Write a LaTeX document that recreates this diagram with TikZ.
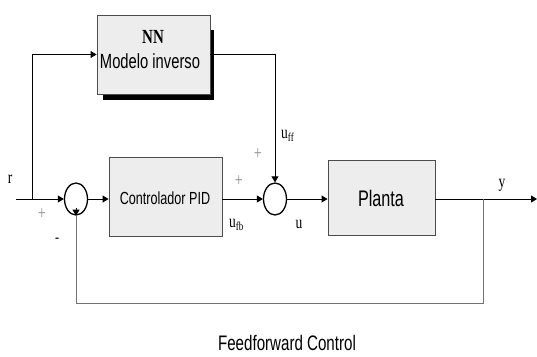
\documentclass[tikz,border=0pt]{standalone}
\usepackage{fontspec}
\setmainfont{Liberation Serif}
\newfontfamily\sansc[FakeStretch=0.72]{Liberation Sans}
\newfontfamily\serc[FakeStretch=0.75]{Liberation Serif}
\usetikzlibrary{shapes.geometric,arrows.meta}
\begin{document}
\begin{tikzpicture}[x=1pt,y=-1pt,
  box/.style={draw=black!70,line width=0.9pt,fill=black!7,inner sep=0pt},
  sumnode/.style={draw=black,line width=1.3pt,ellipse,minimum width=23pt,minimum height=32pt,inner sep=0pt},
  wire/.style={line width=0.9pt,draw=black},
  arr/.style={wire,-{Triangle[length=6pt,width=7pt]}},
  fbwire/.style={line width=0.9pt,draw=black!55},
  lbl/.style={inner sep=0pt,font=\fontsize{18}{18}\serc},
  sgn/.style={inner sep=0pt,text=black!45,font=\fontsize{19}{19}\serc}]
\useasboundingbox (0,0) rectangle (537,356);
% shadow and NN box
\fill[black] (103,30) rectangle (214,100);
\node[box,minimum width=113pt,minimum height=79pt] (nn) at (153.5,54.5) {};
\node[inner sep=0pt,font=\fontsize{20}{20}\serc\bfseries] (nnt) at (153,37) {NN};
\node[inner sep=0pt,font=\fontsize{20.5}{20.5}\sansc] (mi) at (150,61) {Modelo inverso};
% PID and Planta
\node[box,minimum width=113pt,minimum height=79pt] (pid) at (165.5,196.5) {};
\node[inner sep=0pt,font=\fontsize{17.5}{17.5}\sansc] (pidt) at (165,198) {Controlador PID};
\node[box,minimum width=107pt,minimum height=75pt] (pl) at (381.5,197.5) {};
\node[inner sep=0pt,font=\fontsize{22.5}{22.5}\sansc] (plt) at (381,198) {Planta};
% summing junctions
\node[sumnode] (s1) at (76,199) {};
\node[sumnode] (s2) at (275,199) {};
% coordinates
\coordinate (in) at (16,199);
\coordinate (b1) at (32,199);
\coordinate (b2) at (483,199);
\coordinate (out) at (537,199);
\coordinate (fbr) at (483,303);
\coordinate (fbl) at (76,303);
% wires
\draw[wire] (in) -- (b1);
\draw[arr] (b1) -- (s1);
\draw[arr] (b1) |- (nn.west);
\draw[arr] (nn.east) -| (s2.north);
\draw[arr] (s1) -- (pid.west |- s1);
\draw[arr] (pid.east |- s2) -- (s2);
\draw[arr] (s2) -- (pl.west |- s2);
\draw[arr] (pl.east |- s2) -- (out);
\draw[fbwire] (b2) -- (fbr) -- (fbl) -- ([yshift=8pt]s1.south);
\draw[arr] ([yshift=8pt]s1.south) -- (s1.south);
% labels
\node[lbl,anchor=base] (r) at (10,183) {r};
\node[lbl,anchor=base west] (uff) at (281,138) {u\raisebox{-3pt}{\fontsize{12}{12}\serc ff}};
\node[lbl,anchor=base west] (ufb) at (229,227) {u\raisebox{-3pt}{\fontsize{12}{12}\serc fb}};
\node[lbl,anchor=base] (u) at (299,228) {u};
\node[lbl,anchor=base] (y) at (502,187) {y};
\node[sgn] (p1) at (42,214) {+};
\node[sgn] (p2) at (239,181) {+};
\node[sgn] (p3) at (258,154) {+};
\node[inner sep=0pt,font=\fontsize{16}{16}\serc] (m1) at (57,240) {-};
\node[inner sep=0pt,font=\fontsize{21}{21}\sansc] (title) at (287,343) {Feedforward Control};
\end{tikzpicture}
\end{document}
